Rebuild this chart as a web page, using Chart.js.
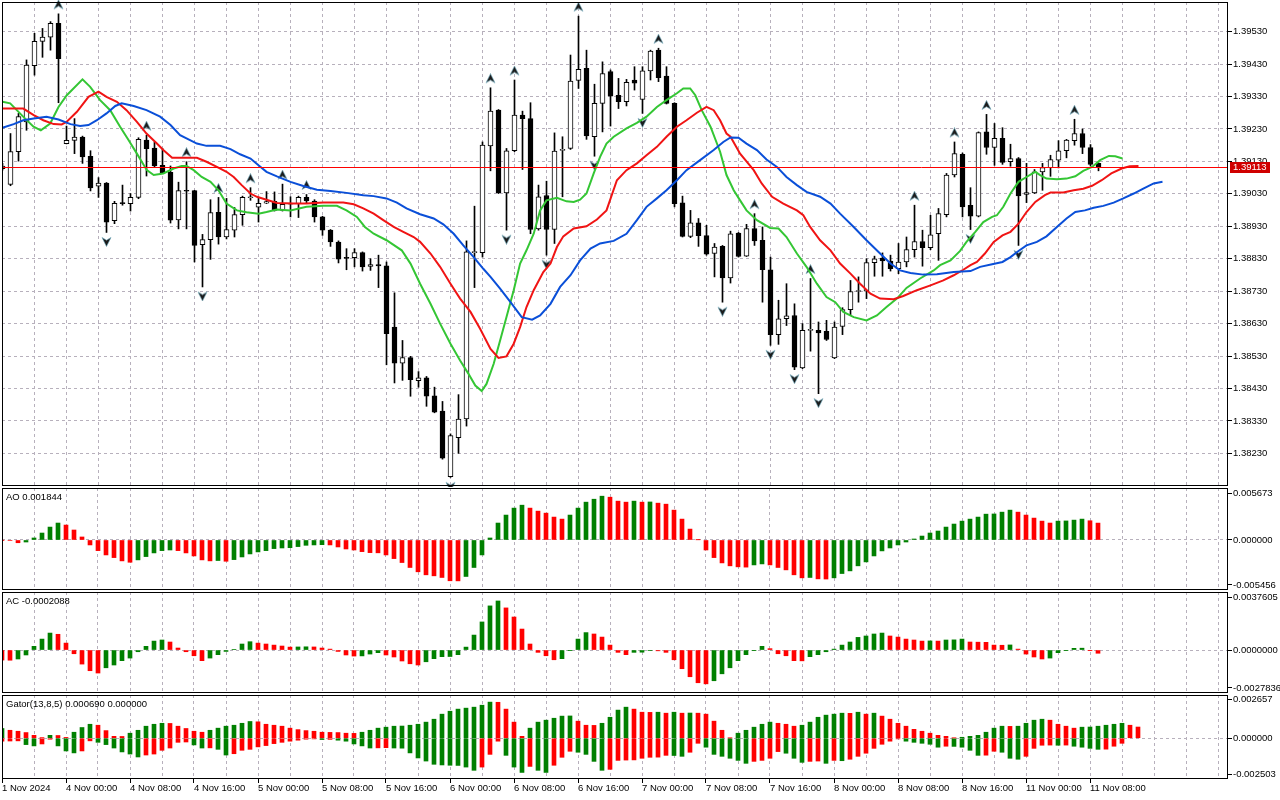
<!DOCTYPE html>
<html>
<head>
<meta charset="utf-8">
<title>H1 chart - Alligator, AO, AC, Gator</title>
<script src="https://cdn.jsdelivr.net/npm/chart.js@4.4.1/dist/chart.umd.min.js"></script>
<style>
  html, body { margin: 0; padding: 0; background: #fff; }
  #wrap { position: relative; width: 1280px; height: 800px; overflow: hidden; background: #fff; }
  #wrap canvas { position: absolute; left: 0; }
</style>
</head>
<body>
<div id="wrap">
  <canvas id="mainChart"  width="1280" height="487" style="top:0px"></canvas>
  <canvas id="aoChart"    width="1280" height="104" style="top:487px"></canvas>
  <canvas id="acChart"    width="1280" height="103" style="top:591px"></canvas>
  <canvas id="gatorChart" width="1280" height="106" style="top:694px"></canvas>
</div>
<script>
// ============================================================
// Hourly price chart with Alligator, fractals and three
// indicator panes (AO, AC, Gator).
// ============================================================

// ---- time axis: one label every 8 bars, starting at bar 0 ----
const TIME_LABELS = [
  "1 Nov 2024", "4 Nov 00:00", "4 Nov 08:00", "4 Nov 16:00", "5 Nov 00:00", "5 Nov 08:00",
  "5 Nov 16:00", "6 Nov 00:00", "6 Nov 08:00", "6 Nov 16:00", "7 Nov 00:00", "7 Nov 08:00",
  "7 Nov 16:00", "8 Nov 00:00", "8 Nov 08:00", "8 Nov 16:00", "11 Nov 00:00", "11 Nov 08:00"
];

// ---- candles (bar 0 .. 137) ----
const OPEN = [
  1.39108, 1.39059, 1.39160, 1.39252, 1.39425, 1.39500, 1.39513, 1.39556, 1.39185, 1.39195,
  1.39205, 1.39146, 1.39054, 1.39063, 1.38947, 1.39001, 1.39000, 1.39019, 1.39196, 1.39171,
  1.39118, 1.39096, 1.38950, 1.39040, 1.39040, 1.38873, 1.38889, 1.38973, 1.38897, 1.38918,
  1.38966, 1.39018, 1.38989, 1.39001, 1.39007, 1.38979, 1.38998, 1.39000, 1.39019, 1.39008,
  1.38959, 1.38918, 1.38881, 1.38833, 1.38833, 1.38849, 1.38806, 1.38812, 1.38808, 1.38619,
  1.38508, 1.38525, 1.38454, 1.38463, 1.38407, 1.38360, 1.38158, 1.38278, 1.38336, 1.38849,
  1.38849, 1.39178, 1.39288, 1.39033, 1.39163, 1.39273, 1.39262, 1.38922, 1.39025, 1.38920,
  1.39164, 1.39170, 1.39380, 1.39417, 1.39206, 1.39309, 1.39407, 1.39334, 1.39314, 1.39381,
  1.39321, 1.39409, 1.39473, 1.39393, 1.39309, 1.39002, 1.38899, 1.38941, 1.38901, 1.38846,
  1.38868, 1.38771, 1.38909, 1.38838, 1.38923, 1.38887, 1.38796, 1.38596, 1.38645, 1.38655,
  1.38493, 1.38609, 1.38609, 1.38606, 1.38524, 1.38621, 1.38673, 1.38729, 1.38730, 1.38818,
  1.38832, 1.38823, 1.38799, 1.38820, 1.38858, 1.38883, 1.38864, 1.38907, 1.38966, 1.39088,
  1.39152, 1.38995, 1.38961, 1.39221, 1.39173, 1.39201, 1.39129, 1.39139, 1.39028, 1.39033,
  1.39098, 1.39111, 1.39134, 1.39163, 1.39194, 1.39216, 1.39173, 1.39124
];
const HIGH = [
  1.39124, 1.39216, 1.39278, 1.39443, 1.39525, 1.39540, 1.39561, 1.39585, 1.39239, 1.39262,
  1.39208, 1.39163, 1.39080, 1.39065, 1.39007, 1.39057, 1.39031, 1.39203, 1.39211, 1.39190,
  1.39170, 1.39116, 1.39066, 1.39129, 1.39041, 1.38905, 1.39012, 1.39019, 1.39016, 1.38988,
  1.39023, 1.39049, 1.39016, 1.39037, 1.39036, 1.39060, 1.39021, 1.39023, 1.39028, 1.39012,
  1.38961, 1.38920, 1.38885, 1.38861, 1.38861, 1.38851, 1.38830, 1.38841, 1.38820, 1.38725,
  1.38578, 1.38529, 1.38482, 1.38467, 1.38434, 1.38390, 1.38290, 1.38411, 1.38885, 1.38992,
  1.39190, 1.39357, 1.39290, 1.39170, 1.39381, 1.39285, 1.39311, 1.39057, 1.39069, 1.39218,
  1.39206, 1.39458, 1.39578, 1.39473, 1.39368, 1.39437, 1.39412, 1.39386, 1.39383, 1.39422,
  1.39422, 1.39473, 1.39479, 1.39422, 1.39311, 1.39023, 1.38979, 1.38954, 1.38933, 1.38877,
  1.38871, 1.38915, 1.38911, 1.38936, 1.38969, 1.38928, 1.38835, 1.38702, 1.38753, 1.38691,
  1.38630, 1.38769, 1.38635, 1.38640, 1.38635, 1.38679, 1.38763, 1.38774, 1.38830, 1.38838,
  1.38848, 1.38841, 1.38877, 1.38897, 1.38995, 1.38918, 1.38964, 1.38985, 1.39093, 1.39190,
  1.39156, 1.39049, 1.39221, 1.39275, 1.39247, 1.39234, 1.39183, 1.39142, 1.39124, 1.39105,
  1.39124, 1.39149, 1.39194, 1.39198, 1.39260, 1.39230, 1.39182, 1.39126
];
const LOW = [
  1.39103, 1.39055, 1.39131, 1.39226, 1.39396, 1.39451, 1.39473, 1.39311, 1.39184, 1.39154,
  1.39124, 1.39039, 1.39019, 1.38911, 1.38938, 1.38995, 1.38977, 1.39015, 1.39085, 1.39113,
  1.39093, 1.38940, 1.38922, 1.38922, 1.38820, 1.38743, 1.38828, 1.38875, 1.38891, 1.38897,
  1.38933, 1.39010, 1.38943, 1.39000, 1.38977, 1.38977, 1.38959, 1.38957, 1.39000, 1.38943,
  1.38902, 1.38868, 1.38817, 1.38796, 1.38805, 1.38792, 1.38794, 1.38741, 1.38503, 1.38447,
  1.38455, 1.38406, 1.38434, 1.38375, 1.38355, 1.38212, 1.38156, 1.38230, 1.38314, 1.38741,
  1.38835, 1.39101, 1.39031, 1.38918, 1.39160, 1.39105, 1.38907, 1.38918, 1.38841, 1.38877,
  1.39021, 1.39167, 1.39355, 1.39198, 1.39146, 1.39221, 1.39239, 1.39293, 1.39301, 1.39350,
  1.39278, 1.39381, 1.39376, 1.39307, 1.38990, 1.38897, 1.38895, 1.38868, 1.38841, 1.38774,
  1.38696, 1.38755, 1.38835, 1.38837, 1.38871, 1.38696, 1.38563, 1.38566, 1.38624, 1.38488,
  1.38491, 1.38545, 1.38414, 1.38578, 1.38522, 1.38596, 1.38655, 1.38696, 1.38707, 1.38776,
  1.38776, 1.38792, 1.38784, 1.38805, 1.38835, 1.38807, 1.38858, 1.38825, 1.38959, 1.39082,
  1.38959, 1.38920, 1.38959, 1.39152, 1.39118, 1.39121, 1.39115, 1.38871, 1.39003, 1.39031,
  1.39041, 1.39084, 1.39110, 1.39141, 1.39180, 1.39154, 1.39116, 1.39101
];
const CLOSE = [
  1.39116, 1.39160, 1.39268, 1.39427, 1.39500, 1.39513, 1.39556, 1.39447, 1.39195, 1.39205,
  1.39144, 1.39048, 1.39063, 1.38943, 1.39001, 1.39000, 1.39019, 1.39198, 1.39169, 1.39116,
  1.39095, 1.38949, 1.39040, 1.39038, 1.38871, 1.38889, 1.38972, 1.38897, 1.38920, 1.38966,
  1.39019, 1.39019, 1.39001, 1.39006, 1.38979, 1.38998, 1.39000, 1.39019, 1.39008, 1.38959,
  1.38918, 1.38882, 1.38829, 1.38831, 1.38849, 1.38805, 1.38812, 1.38808, 1.38599, 1.38508,
  1.38525, 1.38457, 1.38463, 1.38406, 1.38357, 1.38215, 1.38285, 1.38336, 1.38851, 1.38851,
  1.39180, 1.39285, 1.39033, 1.39163, 1.39273, 1.39262, 1.38920, 1.39021, 1.38920, 1.39162,
  1.39166, 1.39378, 1.39414, 1.39209, 1.39309, 1.39401, 1.39331, 1.39314, 1.39374, 1.39371,
  1.39409, 1.39470, 1.39388, 1.39309, 1.39000, 1.38899, 1.38941, 1.38901, 1.38844, 1.38866,
  1.38771, 1.38907, 1.38837, 1.38923, 1.38885, 1.38796, 1.38596, 1.38645, 1.38654, 1.38496,
  1.38609, 1.38610, 1.38601, 1.38581, 1.38619, 1.38673, 1.38729, 1.38731, 1.38818, 1.38830,
  1.38823, 1.38799, 1.38820, 1.38858, 1.38883, 1.38864, 1.38904, 1.38969, 1.39088, 1.39154,
  1.38990, 1.38961, 1.39219, 1.39173, 1.39201, 1.39127, 1.39139, 1.39024, 1.39034, 1.39098,
  1.39111, 1.39136, 1.39163, 1.39196, 1.39216, 1.39173, 1.39121, 1.39113
];
const LAST_PRICE = 1.39113;

// ---- fractal bars (arrow above the high / below the low) ----
const FRACTAL_UP   = [7, 18, 23, 27, 31, 35, 38, 61, 64, 72, 82, 94, 101, 114, 119, 123, 134];
const FRACTAL_DOWN = [13, 25, 56, 63, 68, 74, 80, 90, 96, 99, 102, 121, 127];

// ---- Alligator lines as [bar, price] pairs (shifted ahead of price) ----
const JAW = [
  [0,1.39234],[1.4,1.39245],[2.6,1.39257],[3.9,1.39262],[5.5,1.39268],[7,1.39259],[8.5,1.39245],[9.7,1.39239],
  [10.75,1.39242],[11.8,1.39257],[13,1.39278],[14.1,1.39301],[14.9,1.39309],[16.4,1.39301],[18,1.39288],
  [19.7,1.39268],[21,1.39242],[22.2,1.39211],[23,1.39201],[24.3,1.39185],[25.5,1.39178],[27.2,1.39178],
  [28.5,1.39168],[29.7,1.39152],[31,1.39139],[32,1.39118],[33,1.39098],[34.3,1.39084],[36,1.39067],
  [37.6,1.39054],[39.3,1.39043],[41,1.39039],[43,1.39033],[45.1,1.39026],[46.4,1.39023],[48,1.39016],
  [49.3,1.39003],[50.5,1.38985],[52.2,1.38967],[53.9,1.38954],[55.1,1.38936],[56.4,1.38907],[57.6,1.38871],
  [58.9,1.38835],[60.1,1.38799],[61,1.38774],[62.2,1.38738],[63.5,1.38696],[64.9,1.38650],[66.2,1.38642],
  [67.2,1.38655],[68.5,1.38691],[69.7,1.38743],[71,1.38779],[72.2,1.38825],[73.5,1.38861],[74.7,1.38877],
  [76.4,1.38885],[78,1.38907],[79.3,1.38949],[80.5,1.38990],[81.8,1.39016],[83,1.39041],[84.3,1.39072],
  [85.5,1.39103],[87.2,1.39134],[88.9,1.39165],[90.1,1.39190],[91,1.39204],[92,1.39203],[93,1.39185],
  [94.3,1.39165],[95.5,1.39136],[96.8,1.39113],[98,1.39082],[99.3,1.39057],[100.5,1.39036],[102.2,1.39021],
  [103.5,1.39000],[104.7,1.38969],[106.4,1.38928],[108,1.38887],[109.7,1.38846],[111,1.38815],[112.2,1.38794],
  [113.5,1.38786],[115.1,1.38781],[116.8,1.38782],[118.9,1.38789],[121,1.38792],[122.2,1.38805],[123.7,1.38813],
  [125,1.38820],[126,1.38835],[127,1.38854],[128,1.38871],[129.3,1.38882],[130.5,1.38899],[131.8,1.38928],
  [133,1.38954],[134.1,1.38974],[135.3,1.38979],[136.4,1.38987],[137.6,1.38993],[138.9,1.39003],[140.1,1.39016],
  [141.4,1.39031],[142.6,1.39046],[143.9,1.39062],[145,1.39067]
];
const TEETH = [
  [0,1.39293],[2.6,1.39293],[3.9,1.39273],[5.1,1.39257],[6.4,1.39245],[7.4,1.39244],[8,1.39252],[9.3,1.39283],
  [10.75,1.39329],[12,1.39345],[13,1.39329],[14.3,1.39314],[15.5,1.39288],[16.8,1.39252],[18,1.39216],
  [19.3,1.39185],[20.1,1.39165],[21.2,1.39141],[23,1.39141],[24.3,1.39141],[25.5,1.39129],[26.8,1.39113],
  [28,1.39098],[28.9,1.39082],[29.9,1.39057],[31,1.39031],[31.8,1.39021],[33,1.39012],[34.3,1.39002],
  [36.4,1.39000],[38,1.39000],[40.1,1.39003],[42.6,1.39003],[43.9,1.38998],[45.1,1.38985],[46.4,1.38969],
  [47.6,1.38949],[48.9,1.38928],[50.1,1.38913],[51.4,1.38897],[52.2,1.38882],[53.5,1.38846],[54.7,1.38805],
  [56,1.38753],[57.2,1.38707],[58.5,1.38666],[59.7,1.38614],[61,1.38552],[62,1.38524],[63,1.38529],
  [63.9,1.38568],[64.7,1.38619],[65.5,1.38681],[66.4,1.38733],[67.6,1.38789],[68.5,1.38815],[69.3,1.38866],
  [70.1,1.38899],[71.4,1.38923],[73,1.38930],[74.3,1.38951],[75.5,1.38979],[76.8,1.39072],[78,1.39103],
  [79.3,1.39124],[80.5,1.39149],[81.8,1.39175],[83,1.39206],[84.3,1.39237],[85.5,1.39257],[86.8,1.39280],
  [88,1.39298],[88.9,1.39288],[89.7,1.39257],[90.5,1.39216],[91,1.39206],[92.2,1.39154],[93.9,1.39103],
  [94.9,1.39062],[96.2,1.39021],[97.6,1.39000],[99.3,1.38979],[100.1,1.38964],[100.96,1.38928],[102.2,1.38887],
  [103.5,1.38856],[104.7,1.38815],[106,1.38784],[107.2,1.38753],[108.5,1.38722],[109.7,1.38707],[111.4,1.38705],
  [112.6,1.38715],[114.3,1.38733],[116,1.38748],[117.6,1.38763],[118.9,1.38779],[120.1,1.38796],[121,1.38810],
  [121.8,1.38820],[122.8,1.38846],[123.9,1.38882],[125,1.38902],[126,1.38913],[127,1.38938],[128,1.38974],
  [129.1,1.39005],[130.3,1.39026],[131,1.39034],[132.6,1.39034],[133.9,1.39041],[135.1,1.39046],[136.2,1.39055],
  [137.4,1.39072],[138.6,1.39093],[139.9,1.39108],[140.9,1.39115],[142,1.39116]
];
const LIPS = [
  [0,1.39314],[0.96,1.39309],[2.83,1.39262],[3.88,1.39237],[4.79,1.39226],[5.96,1.39247],[7,1.39298],
  [8.04,1.39334],[10,1.39383],[10.96,1.39360],[12.2,1.39319],[13.46,1.39288],[14.7,1.39237],[15.75,1.39196],
  [16.8,1.39154],[18.04,1.39103],[18.9,1.39088],[20.1,1.39093],[21.4,1.39108],[22.4,1.39116],[23,1.39116],
  [23.9,1.39103],[24.9,1.39082],[26,1.39067],[27,1.39041],[28,1.39000],[29.3,1.38979],[30.5,1.38973],
  [32,1.38969],[33,1.38974],[34.3,1.38982],[36,1.38979],[38,1.38990],[40.1,1.38993],[41.8,1.38993],
  [43,1.38979],[44.3,1.38959],[45.3,1.38928],[46.4,1.38907],[48,1.38887],[49.9,1.38856],[51,1.38815],
  [52.2,1.38753],[53.5,1.38691],[54.7,1.38630],[56,1.38568],[57.2,1.38516],[58.25,1.38475],[59.1,1.38439],
  [59.9,1.38422],[60.5,1.38444],[61.4,1.38506],[62.2,1.38578],[63,1.38650],[63.9,1.38733],[64.7,1.38815],
  [65.5,1.38856],[66.4,1.38907],[67.2,1.38979],[68,1.39010],[69.3,1.39018],[70.5,1.39007],[71.4,1.39005],
  [72.2,1.39012],[73,1.39031],[73.9,1.39093],[74.7,1.39144],[75.5,1.39185],[76.4,1.39206],[78,1.39232],
  [79.3,1.39249],[80.5,1.39268],[81.8,1.39298],[83,1.39319],[84.3,1.39340],[85.1,1.39355],[85.96,1.39355],
  [86.6,1.39334],[87.4,1.39288],[88.5,1.39237],[89.7,1.39160],[90.5,1.39088],[91.4,1.39041],[92.2,1.39010],
  [93,1.38979],[94.3,1.38949],[95.96,1.38925],[97,1.38923],[98,1.38897],[99.3,1.38846],[100.5,1.38805],
  [101.8,1.38753],[103,1.38712],[104.1,1.38696],[105.1,1.38666],[106.4,1.38650],[108,1.38640],[109.3,1.38655],
  [110.5,1.38681],[111.8,1.38707],[113,1.38740],[114.7,1.38769],[116.4,1.38794],[117.2,1.38810],[118.5,1.38825],
  [119.7,1.38854],[120.5,1.38882],[121.6,1.38913],[122.6,1.38943],[123.7,1.38959],[124.3,1.38964],[125.1,1.38990],
  [126,1.39031],[127,1.39067],[128,1.39082],[129.1,1.39098],[129.7,1.39088],[130.5,1.39077],[131.8,1.39075],
  [133,1.39077],[134.1,1.39084],[135.1,1.39101],[136.2,1.39113],[137.2,1.39134],[138.3,1.39147],[139.1,1.39146],
  [140,1.39139]
];

// ---- Awesome Oscillator (bar 0 .. 137) ----
const AO = [
  -0.00002, -0.00005, -0.00030, -0.00022, 0.00022, 0.00076, 0.00141, 0.00185, 0.00163, 0.00109,
  0.00033, -0.00054, -0.00116, -0.00163, -0.00192, -0.00228, -0.00243, -0.00217, -0.00181, -0.00141,
  -0.00116, -0.00109, -0.00116, -0.00141, -0.00174, -0.00217, -0.00228, -0.00224, -0.00232, -0.00214,
  -0.00185, -0.00152, -0.00130, -0.00116, -0.00094, -0.00087, -0.00084, -0.00072, -0.00058, -0.00054,
  -0.00051, -0.00054, -0.00076, -0.00098, -0.00109, -0.00127, -0.00138, -0.00140, -0.00163, -0.00203,
  -0.00246, -0.00300, -0.00347, -0.00380, -0.00391, -0.00409, -0.00445, -0.00446, -0.00398, -0.00300,
  -0.00163, 0.00022, 0.00185, 0.00272, 0.00348, 0.00380, 0.00348, 0.00315, 0.00293, 0.00250,
  0.00228, 0.00272, 0.00348, 0.00413, 0.00445, 0.00478, 0.00467, 0.00424, 0.00413, 0.00424,
  0.00413, 0.00415, 0.00402, 0.00391, 0.00326, 0.00228, 0.00119, 0.00002, -0.00109, -0.00192,
  -0.00250, -0.00282, -0.00293, -0.00296, -0.00272, -0.00261, -0.00272, -0.00300, -0.00326, -0.00380,
  -0.00413, -0.00409, -0.00424, -0.00426, -0.00413, -0.00366, -0.00337, -0.00282, -0.00239, -0.00174,
  -0.00119, -0.00087, -0.00054, -0.00022, 0.00011, 0.00043, 0.00076, 0.00098, 0.00141, 0.00174,
  0.00206, 0.00228, 0.00250, 0.00282, 0.00284, 0.00304, 0.00326, 0.00304, 0.00272, 0.00239,
  0.00206, 0.00185, 0.00206, 0.00208, 0.00217, 0.00228, 0.00210, 0.001844
];

// ---- Accelerator Oscillator (bar 0 .. 137) ----
const AC = [
  -0.00065, -0.00066, -0.00058, -0.00032, 0.00024, 0.00071, 0.00110, 0.00102, 0.00045, -0.00024,
  -0.00091, -0.00134, -0.00149, -0.00115, -0.00097, -0.00069, -0.00052, -0.00011, 0.00024, 0.00058,
  0.00065, 0.00052, 0.00013, -0.00011, -0.00037, -0.00069, -0.00052, -0.00030, -0.00009, 0.00004,
  0.00039, 0.00054, 0.00045, 0.00039, 0.00032, 0.00026, 0.00019, 0.00020, 0.00021, 0.00020,
  0.00013, 0.00006, -0.00009, -0.00032, -0.00039, -0.00038, -0.00026, -0.00017, -0.00032, -0.00045,
  -0.00071, -0.00089, -0.00097, -0.00076, -0.00056, -0.00043, -0.00042, -0.00030, 0.00019, 0.00097,
  0.00182, 0.00286, 0.00318, 0.00273, 0.00214, 0.00136, 0.00039, -0.00015, -0.00037, -0.00063,
  -0.00056, -0.00002, 0.00071, 0.00113, 0.00104, 0.00084, 0.00032, -0.00015, -0.00030, -0.00015,
  -0.00014, -0.00004, -0.00005, -0.00015, -0.00063, -0.00121, -0.00173, -0.00212, -0.00219, -0.00199,
  -0.00154, -0.00115, -0.00069, -0.00030, -0.00002, 0.00024, 0.00009, -0.00024, -0.00037, -0.00069,
  -0.00070, -0.00043, -0.00030, -0.00011, 0.00006, 0.00032, 0.00052, 0.00082, 0.00091, 0.00104,
  0.00110, 0.00091, 0.00084, 0.00071, 0.00065, 0.00058, 0.00059, 0.00058, 0.00065, 0.00066,
  0.00071, 0.00052, 0.00051, 0.00050, 0.00032, 0.00031, 0.00033, 0.00006, -0.00026, -0.00045,
  -0.00058, -0.00052, -0.00017, -0.00002, 0.00011, 0.00012, -0.00002, -0.0002088
];

// ---- Gator Oscillator: upper (bar 0 .. 142) and lower (bar 0 .. 140) ----
const GATOR_UP = [
  0.00060, 0.00049, 0.00043, 0.00035, 0.00018, 0.00004, 0.00018, 0.00017, 0.00005, 0.00037,
  0.00066, 0.00086, 0.00080, 0.00047, 0.00012, 0.00011, 0.00031, 0.00049, 0.00074, 0.00086,
  0.00092, 0.00091, 0.00074, 0.00060, 0.00043, 0.00037, 0.00049, 0.00062, 0.00074, 0.00080,
  0.00092, 0.00103, 0.00101, 0.00086, 0.00080, 0.00074, 0.00062, 0.00053, 0.00047, 0.00043,
  0.00037, 0.00036, 0.00035, 0.00031, 0.00030, 0.00037, 0.00049, 0.00062, 0.00068, 0.00074,
  0.00075, 0.00080, 0.00086, 0.00099, 0.00117, 0.00148, 0.00166, 0.00179, 0.00185, 0.00191,
  0.00203, 0.00222, 0.00221, 0.00179, 0.00099, 0.00012, 0.00062, 0.00099, 0.00111, 0.00123,
  0.00136, 0.00137, 0.00105, 0.00080, 0.00079, 0.00092, 0.00129, 0.00173, 0.00191, 0.00179,
  0.00160, 0.00159, 0.00160, 0.00154, 0.00160, 0.00154, 0.00155, 0.00154, 0.00148, 0.00105,
  0.00049, 0.00002, 0.00031, 0.00049, 0.00068, 0.00086, 0.00099, 0.00092, 0.00086, 0.00074,
  0.00080, 0.00099, 0.00129, 0.00142, 0.00148, 0.00154, 0.00153, 0.00160, 0.00148, 0.00154,
  0.00136, 0.00117, 0.00092, 0.00074, 0.00055, 0.00043, 0.00031, 0.00018, 0.00012, 0.00002,
  0.00006, 0.00012, 0.00018, 0.00037, 0.00062, 0.00074, 0.00073, 0.00074, 0.00092, 0.00111,
  0.00117, 0.00111, 0.00086, 0.00074, 0.00062, 0.00068, 0.00069, 0.00074, 0.00080, 0.00086,
  0.00092, 0.00080, 0.00069
];
const GATOR_DOWN = [
  -0.00018, -0.00017, -0.00016, -0.00039, -0.00047, -0.00035, -0.00006, -0.00047, -0.00078, -0.00090,
  -0.00078, -0.00016, -0.00025, -0.00039, -0.00060, -0.00084, -0.00097, -0.00115, -0.00103, -0.00097,
  -0.00074, -0.00060, -0.00025, -0.00023, -0.00041, -0.00060, -0.00059, -0.00068, -0.00103, -0.00095,
  -0.00074, -0.00068, -0.00053, -0.00045, -0.00033, -0.00025, -0.00018, -0.00012, -0.00006, -0.00004,
  -0.00008, -0.00007, -0.00012, -0.00018, -0.00035, -0.00047, -0.00060, -0.00059, -0.00058, -0.00060,
  -0.00061, -0.00090, -0.00121, -0.00140, -0.00160, -0.00164, -0.00166, -0.00167, -0.00177, -0.00197,
  -0.00177, -0.00099, -0.00018, -0.00105, -0.00177, -0.00210, -0.00173, -0.00197, -0.00210, -0.00166,
  -0.00117, -0.00080, -0.00086, -0.00099, -0.00142, -0.00197, -0.00191, -0.00136, -0.00134, -0.00133,
  -0.00123, -0.00117, -0.00116, -0.00105, -0.00106, -0.00111, -0.00086, -0.00031, -0.00055, -0.00099,
  -0.00111, -0.00123, -0.00136, -0.00154, -0.00142, -0.00136, -0.00123, -0.00082, -0.00092, -0.00123,
  -0.00148, -0.00142, -0.00140, -0.00154, -0.00136, -0.00138, -0.00129, -0.00111, -0.00092, -0.00062,
  -0.00037, -0.00018, -0.00004, -0.00018, -0.00025, -0.00031, -0.00037, -0.00055, -0.00049, -0.00050,
  -0.00055, -0.00074, -0.00105, -0.00104, -0.00080, -0.00086, -0.00123, -0.00129, -0.00111, -0.00062,
  -0.00043, -0.00042, -0.00043, -0.00042, -0.00049, -0.00055, -0.00062, -0.00068, -0.00067, -0.00049,
  -0.00031
];

// ---- axis ranges and tick values ----
const PRICE_TICKS = [1.38230, 1.38330, 1.38430, 1.38530, 1.38630, 1.38730, 1.38830,
                     1.38930, 1.39030, 1.39130, 1.39230, 1.39330, 1.39430, 1.39530];
const PRICE_RANGE = [1.381293, 1.396215];
const AO_RANGE    = [-0.005456, 0.005673];
const AC_RANGE    = [-0.0027836, 0.0037605];
const GATOR_RANGE = [-0.002503, 0.002657];

// ---- look ----
const FONT       = '"Liberation Sans", Arial, sans-serif';
const GRID_COLOR = "#b7b0bc";
const GREEN      = "#008000";
const RED        = "#ff0000";
const PRICE_RED  = "#ff0000";
const TAG_RED    = "#d00000";
const AXIS_W     = 52;     // right price scale width in px

// Bar slots are 8 px wide; these limits put bar i at x = 2.5 + 8i
const X_MIN_MAIN = -0.0625, X_MAX_MAIN = 153.1875;
const X_MIN_IND  = 0,       X_MAX_IND  = 153.25;

// Grid every 4 bars, label every 8 bars
const GRID_STEPS = [];
for (let i = 0; i <= 152; i += 4) GRID_STEPS.push(i);

// Green when the bar grew versus the previous one, red otherwise
function histColors(values, useAbs, firstColor) {
  return values.map(function (v, i) {
    if (i === 0) return firstColor;
    const a = useAbs ? Math.abs(v) : v;
    const b = useAbs ? Math.abs(values[i - 1]) : values[i - 1];
    return a > b ? GREEN : RED;
  });
}

// Small arrow picture used as the fractal point style.
// The canvas is taller than the arrow so the arrow sits off the candle.
function makeArrow(up) {
  const c = document.createElement("canvas");
  c.width = 11; c.height = 29;
  const g = c.getContext("2d");
  g.translate(5.5, up ? 5 : 24);
  if (!up) g.scale(1, -1);
  g.beginPath();
  g.moveTo(0, -4.5); g.lineTo(4.5, 4.5); g.lineTo(0, 1.8); g.lineTo(-4.5, 4.5);
  g.closePath();
  g.fillStyle = "#1c1c1c"; g.fill();
  g.strokeStyle = "rgba(110,170,190,0.9)"; g.lineWidth = 0.7; g.stroke();
  return c;
}

// ---- shared plugins ----
// Black frame around each pane
const framePlugin = {
  id: "frame",
  afterDraw: function (chart) {
    const a = chart.chartArea, ctx = chart.ctx;
    ctx.save();
    ctx.strokeStyle = "#000"; ctx.lineWidth = 1;
    ctx.strokeRect(a.left + 0.5, a.top + 0.5, a.right - a.left - 1, a.bottom - a.top - 1);
    ctx.restore();
  }
};

// Indicator name and value in the pane's top-left corner
const titlePlugin = {
  id: "paneTitle",
  afterDraw: function (chart, args, opts) {
    if (!opts || !opts.text) return;
    const ctx = chart.ctx;
    ctx.save();
    ctx.font = "9.5px " + FONT; ctx.fillStyle = "#000";
    ctx.textBaseline = "middle"; ctx.textAlign = "left";
    ctx.fillText(opts.text, 6, chart.chartArea.top + 9);
    ctx.restore();
  }
};

// Current price: red line across the pane, red tag on the price scale
const pricePlugin = {
  id: "lastPrice",
  afterDatasetsDraw: function (chart) {
    const a = chart.chartArea, ctx = chart.ctx;
    const y = Math.round(chart.scales.y.getPixelForValue(LAST_PRICE)) + 0.5;
    ctx.save();
    ctx.strokeStyle = PRICE_RED; ctx.lineWidth = 1;
    ctx.beginPath(); ctx.moveTo(a.left, y); ctx.lineTo(a.right, y); ctx.stroke();
    ctx.restore();
  },
  afterDraw: function (chart) {
    const a = chart.chartArea, ctx = chart.ctx;
    const y = Math.round(chart.scales.y.getPixelForValue(LAST_PRICE));
    ctx.save();
    ctx.fillStyle = TAG_RED;
    ctx.fillRect(a.right + 2, y - 5, 40, 11);
    ctx.fillStyle = "#fff"; ctx.font = "9.5px " + FONT;
    ctx.textBaseline = "middle"; ctx.textAlign = "left";
    ctx.fillText(LAST_PRICE.toFixed(5), a.right + 5, y + 0.5);
    ctx.restore();
  }
};

// ---- scale builders ----
function xScale(min, max, showLabels) {
  return {
    type: "linear", min: min, max: max, offset: false, bounds: "data",
    afterBuildTicks: function (axis) {
      axis.ticks = GRID_STEPS.map(function (v) { return { value: v }; });
    },
    afterFit: function (axis) {
      axis.height = showLabels ? 21 : 0;
      axis.paddingLeft = 0; axis.paddingRight = 0;
    },
    grid: {
      color: GRID_COLOR, offset: false, drawTicks: showLabels, tickLength: 4,
      tickColor: function (c) {
        const v = c.tick ? c.tick.value : -1;
        return (v % 8 === 0 && v / 8 < TIME_LABELS.length) ? "#000" : "rgba(0,0,0,0)";
      }
    },
    border: { display: false, dash: [3, 3] },
    ticks: {
      display: showLabels, autoSkip: false, maxRotation: 0, minRotation: 0,
      align: "start", padding: 0, color: "#000", font: { family: FONT, size: 9.5 },
      callback: function (v) {
        return (v % 8 === 0 && v / 8 < TIME_LABELS.length) ? TIME_LABELS[v / 8] : "";
      }
    }
  };
}

function fitRight(axis) {
  axis.width = AXIS_W;
  axis.paddingTop = 0; axis.paddingBottom = 0;
}

// Indicator panes show min, zero and max; min/max labels sit just inside the frame
function indicatorY(range, digits) {
  const shown = [range[0], 0, range[1]];
  return {
    type: "linear", position: "right", min: range[0], max: range[1], bounds: "data",
    afterBuildTicks: function (axis) {
      const pad = (range[1] - range[0]) * 0.05;
      axis.ticks = [{ value: range[0] + pad }, { value: 0 }, { value: range[1] - pad }];
    },
    afterFit: fitRight,
    grid: {
      color: function (c) { return c.tick && c.tick.value === 0 ? GRID_COLOR : "rgba(0,0,0,0)"; },
      tickLength: 4, tickColor: "#000"
    },
    border: { display: false, dash: [3, 3] },
    ticks: {
      padding: 1, color: "#000", font: { family: FONT, size: 9.5 },
      callback: function (v, i) { return shown[i].toFixed(digits); }
    }
  };
}

function baseOptions(padTop, padBottom) {
  return {
    responsive: false, animation: false, devicePixelRatio: 1, events: [],
    layout: { padding: { left: 2, right: 0, top: padTop, bottom: padBottom }, autoPadding: false },
    plugins: { legend: { display: false }, tooltip: { enabled: false } }
  };
}

// ---- main price pane ----
function renderMain() {
  const opts = baseOptions(2, 1);
  opts.scales = {
    x: xScale(X_MIN_MAIN, X_MAX_MAIN, false),
    y: {
      type: "linear", position: "right", min: PRICE_RANGE[0], max: PRICE_RANGE[1], bounds: "data",
      afterBuildTicks: function (axis) {
        axis.ticks = PRICE_TICKS.map(function (v) { return { value: v }; });
      },
      afterFit: fitRight,
      grid: { color: GRID_COLOR, tickLength: 4, tickColor: "#000" },
      border: { display: false, dash: [3, 3] },
      ticks: {
        padding: 1, color: "#000", font: { family: FONT, size: 9.5 },
        callback: function (v) { return v.toFixed(5); }
      }
    }
  };

  const lineSet = function (points, color) {
    return {
      type: "line", order: 0,
      data: points.map(function (p) { return { x: p[0], y: p[1] }; }),
      borderColor: color, borderWidth: 2, pointRadius: 0, tension: 0, fill: false
    };
  };
  const arrowSet = function (bars, up) {
    return {
      type: "line", order: 0, showLine: false, clip: false,
      data: bars.map(function (i) { return { x: i, y: up ? HIGH[i] : LOW[i] }; }),
      pointStyle: makeArrow(up), pointRadius: 5
    };
  };

  new Chart(document.getElementById("mainChart"), {
    type: "bar",
    data: {
      datasets: [
        // wicks: high-low range, 1 px
        {
          order: 3, grouped: false, barThickness: 1, backgroundColor: "#000",
          data: OPEN.map(function (o, i) { return { x: i, y: [LOW[i], HIGH[i]] }; })
        },
        // bodies: open-close range, white for up bars, black for down bars
        {
          order: 2, grouped: false, barThickness: 5, minBarLength: 1,
          borderWidth: 1, borderColor: "#000", borderSkipped: false,
          backgroundColor: OPEN.map(function (o, i) { return CLOSE[i] > o ? "#fff" : "#000"; }),
          data: OPEN.map(function (o, i) { return { x: i, y: [o, CLOSE[i]] }; })
        },
        lineSet(JAW, "#0a4fd8"),
        lineSet(TEETH, "#f01414"),
        lineSet(LIPS, "#34c634"),
        arrowSet(FRACTAL_UP, true),
        arrowSet(FRACTAL_DOWN, false)
      ]
    },
    options: opts,
    plugins: [pricePlugin, framePlugin]
  });
}

// ---- indicator panes ----
function renderHistogram(canvasId, sets, range, digits, title, padTop, padBottom, showTime) {
  const opts = baseOptions(padTop, padBottom);
  opts.plugins.paneTitle = { text: title };
  opts.scales = {
    x: xScale(X_MIN_IND, X_MAX_IND, showTime),
    y: indicatorY(range, digits)
  };
  new Chart(document.getElementById(canvasId), {
    type: "bar",
    data: {
      datasets: sets.map(function (s) {
        return {
          grouped: false, barThickness: 4, borderWidth: 0,
          backgroundColor: histColors(s.values, s.useAbs, s.first),
          data: s.values.map(function (v, i) { return { x: i, y: v }; })
        };
      })
    },
    options: opts,
    plugins: [titlePlugin, framePlugin]
  });
}

renderMain();
renderHistogram("aoChart", [{ values: AO, useAbs: false, first: RED }], AO_RANGE, 6,
                "AO " + AO[AO.length - 1].toFixed(6), 1, 1, false);
renderHistogram("acChart", [{ values: AC, useAbs: false, first: RED }], AC_RANGE, 7,
                "AC " + AC[AC.length - 1].toFixed(7), 1, 1, false);
renderHistogram("gatorChart",
                [{ values: GATOR_UP, useAbs: true, first: GREEN },
                 { values: GATOR_DOWN, useAbs: true, first: RED }],
                GATOR_RANGE, 6, "Gator(13,8,5) 0.000690 0.000000", 1, 0, true);
</script>
</body>
</html>
